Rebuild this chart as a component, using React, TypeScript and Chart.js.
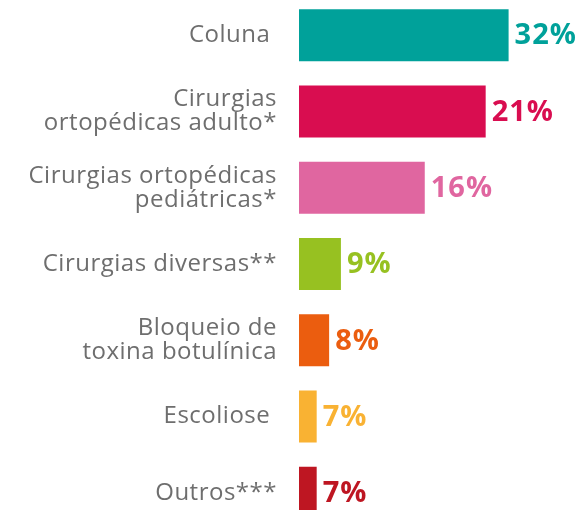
import React, { useEffect, useRef } from "react";
import { Chart, registerables } from "chart.js";

Chart.register(...registerables);

const categories: (string | string[])[] = [
  "Coluna ",
  ["Cirurgias", "ortopédicas adulto*"],
  ["Cirurgias ortopédicas", "pediátricas*"],
  "Cirurgias diversas**",
  ["Bloqueio de", "toxina botulínica"],
  "Escoliose ",
  "Outros***",
];
const shareLabels = ["32%", "21%", "16%", "9%", "8%", "7%", "7%"];
// bar lengths as drawn in the infographic (not proportional to the shares)
const barLengths = [32, 28.5, 19.2, 6.4, 4.6, 2.7, 2.7];
const barColors = [
  "#00A19A",
  "#D90D50",
  "#E066A0",
  "#97C121",
  "#EB5D0F",
  "#F9B233",
  "#BE1622",
];

const LABEL_FONT = "Open Sans";

const spacing = {
  id: "spacing",
  beforeDraw(chart: any) {
    chart.ctx.letterSpacing = "0.5px";
  },
};

const valueLabels = {
  id: "valueLabels",
  afterDatasetsDraw(chart: any) {
    const ctx = chart.ctx;
    const meta = chart.getDatasetMeta(0);
    ctx.save();
    ctx.letterSpacing = "1px";
    ctx.font = `700 29px "${LABEL_FONT}"`;
    ctx.textBaseline = "middle";
    ctx.textAlign = "left";
    meta.data.forEach((bar: any, i: number) => {
      ctx.fillStyle = barColors[i];
      ctx.fillText(shareLabels[i], bar.x + 6, bar.y + 1);
    });
    ctx.restore();
  },
};

export default function App() {
  const ref = useRef<HTMLCanvasElement>(null);
  useEffect(() => {
    let chart: Chart | null = null;
    let cancelled = false;
    const make = () => {
      if (cancelled || !ref.current) return;
      chart = new Chart(ref.current, {
        type: "bar",
        data: {
          labels: categories,
          datasets: [
            {
              data: barLengths,
              backgroundColor: barColors,
              borderWidth: 0,
              barPercentage: 0.682,
              categoryPercentage: 1,
            },
          ],
        },
        options: {
          indexAxis: "y",
          responsive: false,
          animation: false,
          layout: { padding: { left: 0, right: 17, top: 0, bottom: 0 } },
          plugins: {
            legend: { display: false },
            tooltip: { enabled: false },
          },
          scales: {
            x: { display: false, min: 0, max: 40 },
            y: {
              grid: { display: false, drawTicks: false },
              border: { display: false },
              afterFit: (scale: any) => {
                scale.width = 299;
                scale.paddingTop = 0;
                scale.paddingBottom = 0;
              },
              ticks: {
                padding: 22,
                color: "#6e6e6e",
                font: { family: LABEL_FONT, size: 24, lineHeight: 1.0 },
              },
            },
          },
        },
        plugins: [spacing, valueLabels],
      });
    };
    const fonts = (document as any).fonts;
    if (fonts && fonts.load) {
      Promise.all([
        fonts.load(`24px "${LABEL_FONT}"`),
        fonts.load(`700 29px "${LABEL_FONT}"`),
      ])
        .catch(() => {})
        .then(make);
    } else make();
    return () => {
      cancelled = true;
      if (chart) chart.destroy();
    };
  }, []);
  return (
    <div
      style={{
        position: "fixed",
        left: 0,
        top: -3,
        width: 578,
        height: 534,
        background: "#fff",
      }}
    >
      <canvas ref={ref} width={578} height={534} style={{ width: 578, height: 534 }} />
    </div>
  );
}
